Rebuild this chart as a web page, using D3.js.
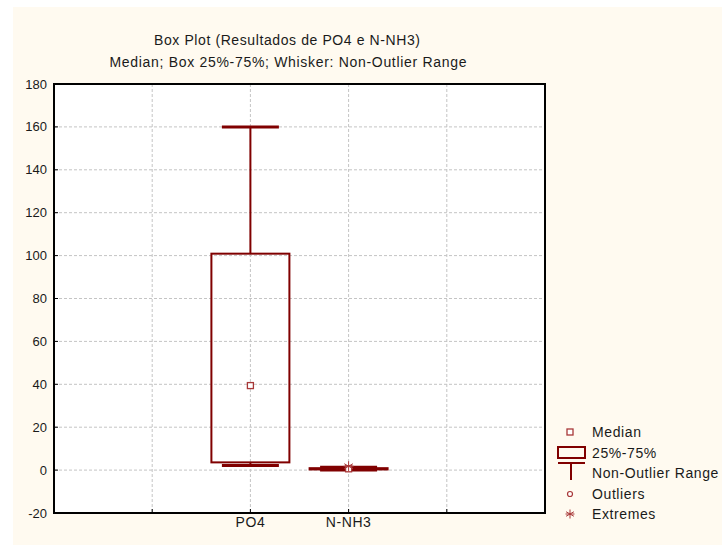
<!DOCTYPE html>
<html>
<head>
<meta charset="utf-8">
<script src="https://cdn.jsdelivr.net/npm/d3@7"></script>
<style>
  body { margin: 0; background: #fff; }
  text { font-family: "Liberation Sans", Arial, sans-serif; fill: #1a1a1a; }
</style>
</head>
<body>
<svg id="chart" width="722" height="545"></svg>
<script>
// chart data
var categories = ["PO4", "N-NH3"];
var catPos = [2, 3];               // slot on the x axis (grid lines at 1..4)
var whiskerLow = [2.2, 0.1];
var q1 = [3.6, 0.3];
var median = [39.4, 0.6];
var q3 = [100.9, 0.9];
var whiskerHigh = [160, 1.3];
var extremes = [[], [1.8]];
var yTicks = [-20, 0, 20, 40, 60, 80, 100, 120, 140, 160, 180];
var xGrid = [1, 2, 3, 4];

var title = "Box Plot (Resultados de PO4 e N-NH3)";
var subtitle = "Median; Box 25%-75%; Whisker: Non-Outlier Range";
var legendLabels = ["Median", "25%-75%", "Non-Outlier Range", "Outliers", "Extremes"];

var boxColor = "#800000";
var markColor = "#a83838";

var svg = d3.select("#chart");

// cream page background
svg.append("rect")
    .attr("x", 13).attr("y", 7)
    .attr("width", 722 - 13).attr("height", 545 - 7)
    .attr("fill", "#fffaf0");

var plotLeft = 54, plotRight = 545, plotTop = 84, plotBottom = 513;

var x = d3.scaleLinear().domain([0, 5]).range([plotLeft, plotRight]);
var y = d3.scaleLinear().domain([-20, 180]).range([plotBottom, plotTop]);

// plot area
svg.append("rect")
    .attr("x", plotLeft).attr("y", plotTop)
    .attr("width", plotRight - plotLeft).attr("height", plotBottom - plotTop)
    .attr("fill", "#fff");

// grid lines
svg.selectAll(".hgrid")
    .data(yTicks.filter(function(d) { return d > -20 && d < 180; }))
    .enter().append("line")
    .attr("class", "hgrid")
    .attr("x1", plotLeft).attr("x2", plotRight)
    .attr("y1", function(d) { return y(d); })
    .attr("y2", function(d) { return y(d); })
    .attr("stroke", "#c4c4c4")
    .attr("stroke-dasharray", "3,2");

svg.selectAll(".vgrid")
    .data(xGrid)
    .enter().append("line")
    .attr("class", "vgrid")
    .attr("y1", plotTop).attr("y2", plotBottom)
    .attr("x1", function(d) { return x(d); })
    .attr("x2", function(d) { return x(d); })
    .attr("stroke", "#c4c4c4")
    .attr("stroke-dasharray", "3,2");

// frame
svg.append("rect")
    .attr("x", plotLeft).attr("y", plotTop)
    .attr("width", plotRight - plotLeft).attr("height", plotBottom - plotTop)
    .attr("fill", "none")
    .attr("stroke", "#000")
    .attr("stroke-width", 2);

// y axis: inner ticks + labels
svg.selectAll(".ytick")
    .data(yTicks)
    .enter().append("line")
    .attr("class", "ytick")
    .attr("x1", plotLeft).attr("x2", plotLeft + 4)
    .attr("y1", function(d) { return y(d); })
    .attr("y2", function(d) { return y(d); })
    .attr("stroke", "#000");

svg.selectAll(".ylab")
    .data(yTicks)
    .enter().append("text")
    .attr("class", "ylab")
    .attr("x", plotLeft - 7)
    .attr("y", function(d) { return y(d); })
    .attr("dy", "0.35em")
    .attr("text-anchor", "end")
    .attr("font-size", 13)
    .text(function(d) { return d; });

// x axis: ticks + category labels
svg.selectAll(".xtick")
    .data(xGrid)
    .enter().append("line")
    .attr("class", "xtick")
    .attr("x1", function(d) { return x(d); })
    .attr("x2", function(d) { return x(d); })
    .attr("y1", plotBottom).attr("y2", plotBottom - 4)
    .attr("stroke", "#000");

svg.selectAll(".xlab")
    .data(categories)
    .enter().append("text")
    .attr("class", "xlab")
    .attr("x", function(d, i) { return x(catPos[i]); })
    .attr("y", 527)
    .attr("text-anchor", "middle")
    .attr("font-size", 14)
    .attr("letter-spacing", 0.6)
    .text(function(d) { return d; });

// titles
svg.append("text")
    .attr("x", 287).attr("y", 45)
    .attr("text-anchor", "middle")
    .attr("font-size", 14)
    .attr("textLength", 266)
    .attr("lengthAdjust", "spacing")
    .text(title);

svg.append("text")
    .attr("x", 288).attr("y", 67)
    .attr("text-anchor", "middle")
    .attr("font-size", 14)
    .attr("textLength", 357)
    .attr("lengthAdjust", "spacing")
    .text(subtitle);

// boxes
var boxW = 78, capW = 57;
var g = svg.append("g");

categories.forEach(function(c, i) {
    var cx = x(catPos[i]);

    // whisker stems
    g.append("line")
        .attr("x1", cx).attr("x2", cx)
        .attr("y1", y(q3[i])).attr("y2", y(whiskerHigh[i]))
        .attr("stroke", boxColor).attr("stroke-width", 2);
    g.append("line")
        .attr("x1", cx).attr("x2", cx)
        .attr("y1", y(q1[i])).attr("y2", y(whiskerLow[i]))
        .attr("stroke", boxColor).attr("stroke-width", 2);
    // caps
    [whiskerHigh[i], whiskerLow[i]].forEach(function(v) {
        g.append("line")
            .attr("x1", cx - capW / 2).attr("x2", cx + capW / 2)
            .attr("y1", y(v)).attr("y2", y(v))
            .attr("stroke", boxColor).attr("stroke-width", 3);
    });
    // box
    g.append("rect")
        .attr("x", cx - boxW / 2)
        .attr("y", y(q3[i]))
        .attr("width", boxW)
        .attr("height", Math.max(0.5, y(q1[i]) - y(q3[i])))
        .attr("fill", "none")
        .attr("stroke", boxColor).attr("stroke-width", 2);
    // median
    g.append("rect")
        .attr("x", cx - 3).attr("y", y(median[i]) - 3)
        .attr("width", 6).attr("height", 6)
        .attr("fill", "#fff")
        .attr("stroke", markColor).attr("stroke-width", 1.3);
    // extremes
    extremes[i].forEach(function(v) {
        drawStar(g, cx, y(v), 5);
    });
});

function drawStar(sel, cx, cy, r) {
    var angles = [0, 60, 120];
    angles.forEach(function(a) {
        var rad = a * Math.PI / 180;
        sel.append("line")
            .attr("x1", cx - r * Math.sin(rad)).attr("y1", cy - r * Math.cos(rad))
            .attr("x2", cx + r * Math.sin(rad)).attr("y2", cy + r * Math.cos(rad))
            .attr("stroke", markColor).attr("stroke-width", 1);
    });
    sel.append("line")
        .attr("x1", cx - r).attr("x2", cx + r)
        .attr("y1", cy).attr("y2", cy)
        .attr("stroke", markColor).attr("stroke-width", 1);
}

// legend
var leg = svg.append("g");
var legY = [432, 453, 473, 494, 514];

leg.selectAll("text")
    .data(legendLabels)
    .enter().append("text")
    .attr("x", 592)
    .attr("y", function(d, i) { return legY[i]; })
    .attr("dy", "0.35em")
    .attr("font-size", 14)
    .attr("letter-spacing", 0.6)
    .text(function(d) { return d; });

leg.append("rect")
    .attr("x", 567).attr("y", legY[0] - 3)
    .attr("width", 6).attr("height", 6)
    .attr("fill", "#fff")
    .attr("stroke", markColor).attr("stroke-width", 1.3);

leg.append("rect")
    .attr("x", 558).attr("y", 447)
    .attr("width", 27).attr("height", 11)
    .attr("fill", "none")
    .attr("stroke", boxColor).attr("stroke-width", 2);

leg.append("line")
    .attr("x1", 558).attr("x2", 585).attr("y1", 463).attr("y2", 463)
    .attr("stroke", boxColor).attr("stroke-width", 2);
leg.append("line")
    .attr("x1", 571).attr("x2", 571).attr("y1", 463).attr("y2", 480)
    .attr("stroke", boxColor).attr("stroke-width", 2);

leg.append("circle")
    .attr("cx", 570).attr("cy", legY[3])
    .attr("r", 2.5)
    .attr("fill", "#fff")
    .attr("stroke", markColor).attr("stroke-width", 1.2);

drawStar(leg, 570, legY[4], 4.5);
</script>
</body>
</html>
